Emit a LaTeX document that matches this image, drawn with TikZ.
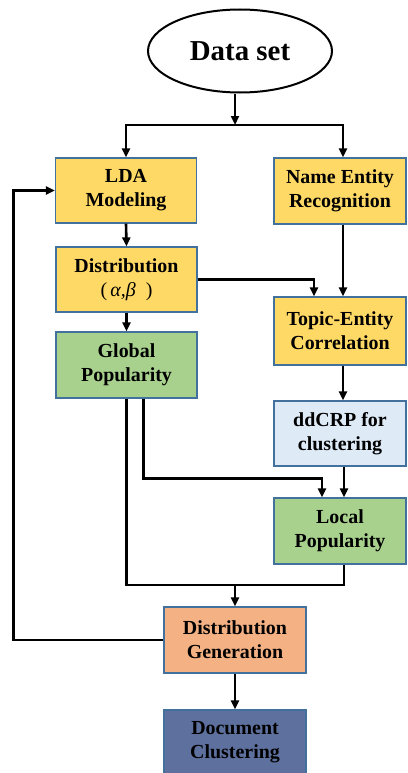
\documentclass[tikz,border=0pt]{standalone}
\usepackage{fontspec}
\setmainfont{Liberation Serif}
\usetikzlibrary{arrows.meta,shapes.geometric}
\definecolor{boxyellow}{HTML}{FFD966}
\definecolor{boxgreen}{HTML}{A9D18E}
\definecolor{boxblue}{HTML}{DEEBF7}
\definecolor{boxorange}{HTML}{F4B183}
\definecolor{boxdark}{HTML}{5E709E}
\definecolor{boxline}{HTML}{41719C}
\begin{document}
\begin{tikzpicture}[x=1bp,y=-1bp,
	  box/.style={draw=boxline, line width=1.2bp, align=center, inner sep=0pt,
	    font=\fontsize{20}{24}\selectfont\bfseries},
	  wide/.style={box, minimum width=141bp, minimum height=65bp},
	  narrow/.style={box, minimum width=132bp, minimum height=66bp},
	  line/.style={line width=2.6bp},
	  arr/.style={line, -{Triangle[length=9bp,width=8bp]}}]
	  \useasboundingbox (0,0) rectangle (407,773);
	  
	  \node[ellipse, draw, line width=2bp, minimum width=184bp, minimum height=83bp, inner sep=0pt,
	    font=\fontsize{29}{34}\selectfont\bfseries] (data) at (240,51) {Data set};
	  
	  \node[wide, fill=boxyellow] (lda) at (126,190.5) {LDA\\Modeling};
	  \node[narrow, fill=boxyellow] (ner) at (340,191) {Name Entity\\Recognition};
	  \node[wide, fill=boxyellow] (dist) at (126.5,279.5) {Distribution\\{\mdseries(\,\itshape α,β\ \ \upshape)}};
	  \node[narrow, fill=boxyellow, minimum height=68bp] (topic) at (340,331) {Topic-Entity\\Correlation};
	  \node[wide, fill=boxgreen, minimum height=66bp] (glob) at (126.5,365) {Global\\Popularity};
	  \node[narrow, fill=boxblue, minimum height=65bp] (ddcrp) at (340,433.5) {ddCRP for\\clustering};
	  \node[narrow, fill=boxgreen] (local) at (340,531) {Local\\Popularity};
	  \node[wide, fill=boxorange, minimum width=142bp, minimum height=66bp] (gen) at (235,640) {Distribution\\Generation};
	  \node[wide, fill=boxdark, minimum width=142bp, minimum height=64bp] (doc) at (235,742) {Document\\Clustering};
	  
	  \coordinate (fork) at (235,125);
	  \coordinate (join) at (235,585);
	  
	  \draw[arr] (data.south -| fork) -- (fork);
	  \draw[arr] (fork) -| (lda.north);
	  \draw[arr] (fork) -| ([xshift=3bp]ner.north);
	  \draw[arr] (lda.south) -- (dist.north);
	  \draw[arr] (dist.east) -| ([xshift=-26bp]topic.north);
	  \draw[arr] ([xshift=3bp]ner.south) -- ([xshift=3bp]topic.north);
	  \draw[arr] (dist.south) -- (glob.north);
	  \draw[arr] ([xshift=3bp]topic.south) -- ([xshift=3bp]ddcrp.north);
	  \draw[arr] ([xshift=4bp]ddcrp.south) -- ([xshift=4bp]local.north);
	  \draw[arr] ([xshift=17bp]glob.south) -- ++(0,80) -| ([xshift=-18bp]local.north);
	  \draw[line] (glob.south) |- (join) -| ([xshift=4bp]local.south);
	  \draw[arr] (join) -- (gen.north);
	  \draw[arr] (gen.west) -- ++(-150,0) |- (lda.west);
	  \draw[arr] (gen.south) -- (doc.north);
	\end{tikzpicture}
\end{document}
